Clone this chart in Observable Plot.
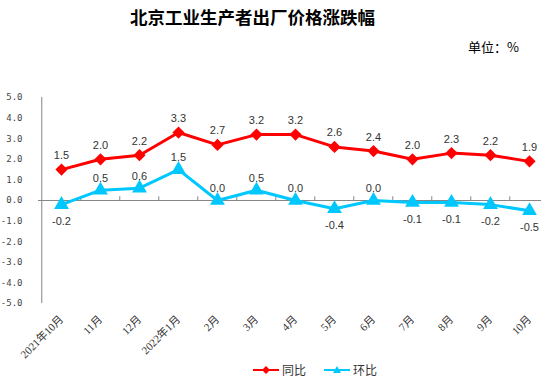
<!DOCTYPE html>
<html>
<head>
<meta charset="utf-8">
<script src="https://cdn.jsdelivr.net/npm/d3@7"></script>
<script src="https://cdn.jsdelivr.net/npm/@observablehq/plot@0.6"></script>
<style>
  html, body { margin: 0; padding: 0; background: #fff; }
  #wrap { position: relative; width: 551px; height: 378px; overflow: hidden; font-family: "Noto Sans CJK SC", sans-serif; }
  #head { position: relative; width: 551px; height: 90px; }
  #title { position: absolute; left: 0; width: 505px; top: 5px; text-align: center; font-size: 17.5px; font-weight: 700; line-height: 24px; color: #000; }
  #unit { position: absolute; left: 468px; top: 39px; font-size: 13px; line-height: 16px; color: #000; }
  #chart svg { display: block; }
  #legend { position: relative; height: 16px; width: 551px; font-size: 12px; color: #333; }
  .lg { position: absolute; top: 0; height: 16px; line-height: 16px; display: flex; align-items: center; }
  .lg svg { margin-right: 3px; }
</style>
</head>
<body>
<div id="wrap">
  <div id="head">
    <div id="title"></div>
    <div id="unit"></div>
  </div>
  <div id="chart"></div>
  <div id="legend"></div>
</div>
<script>
const titleText = "北京工业生产者出厂价格涨跌幅";
const unitText = "单位：%";
const months = ["2021年10月","11月","12月","2022年1月","2月","3月","4月","5月","6月","7月","8月","9月","10月"];
const yoy = [1.5, 2.0, 2.2, 3.3, 2.7, 3.2, 3.2, 2.6, 2.4, 2.0, 2.3, 2.2, 1.9];
const mom = [-0.2, 0.5, 0.6, 1.5, 0.0, 0.5, 0.0, -0.4, 0.0, -0.1, -0.1, -0.2, -0.5];
const yTicks = [-5, -4, -3, -2, -1, 0, 1, 2, 3, 4, 5];
const seriesNames = ["同比", "环比"];
const colors = ["#FF0000", "#00C8FF"];

document.getElementById("title").textContent = titleText;
document.getElementById("unit").textContent = unitText;

const rowsYoy = months.map((m, i) => ({month: m, value: yoy[i]}));
const rowsMom = months.map((m, i) => ({month: m, value: mom[i]}));

const W = 551, mL = 38, mR = 0;
const step = (W - mL - mR) / months.length;
const axisColor = "#868686";
const labelFont = "'Liberation Sans', 'Noto Sans CJK SC', sans-serif";

const chart = Plot.plot({
  width: W,
  height: 272,
  marginLeft: mL,
  marginRight: mR,
  marginTop: 7,
  marginBottom: 59,
  x: {type: "point", domain: months, padding: 0.5, label: null},
  y: {domain: [-5, 5], label: null},
  marks: [
    Plot.axisY({ticks: yTicks, tickSize: 0, tickPadding: 16, tickFormat: d => d.toFixed(1),
      fontFamily: "'DejaVu Sans Mono', monospace", fontSize: 9, fill: "#444", label: null}),
    Plot.axisX({tickSize: 0, tickRotate: -45, tickPadding: 14,
      fontFamily: "'Liberation Serif', 'Noto Sans CJK SC', serif", fontSize: 11, fill: "#333", label: null}),
    // vertical axis line
    Plot.ruleX([months[0]], {y1: -5, y2: 5, dx: -step / 2, stroke: axisColor, strokeWidth: 1}),
    // end ticks of vertical axis
    Plot.link([-5, 5], {x1: months[0], x2: months[0], y1: d => d, y2: d => d, dx: -step / 2,
      stroke: axisColor, strokeWidth: 1, markerEnd: null,
      render: (index, scales, values, dims, ctx, next) => {
        const g = next(index, scales, values, dims, ctx);
        d3.select(g).selectAll("path").attr("d", function() {
          const d = d3.select(this).attr("d");
          const m = /M([-\d.]+),([-\d.]+)/.exec(d);
          return `M${+m[1]},${+m[2]}h4`;
        });
        return g;
      }}),
    // zero line (category axis)
    Plot.ruleY([0], {stroke: axisColor, strokeWidth: 1, insetRight: 10}),
    // category boundary ticks
    Plot.ruleX(months.slice(1), {x: d => d, y1: 0, y2: 0.18, dx: -step / 2, stroke: axisColor, strokeWidth: 1}),
    // series lines
    Plot.line(rowsYoy, {x: "month", y: "value", stroke: colors[0], strokeWidth: 3}),
    Plot.line(rowsMom, {x: "month", y: "value", stroke: colors[1], strokeWidth: 3}),
    Plot.dot(rowsYoy, {x: "month", y: "value", symbol: "diamond2", r: 5.5, fill: colors[0], stroke: null}),
    Plot.dot(rowsMom, {x: "month", y: "value", symbol: "triangle", r: 5.5, fill: colors[1], stroke: null}),
    // data labels
    Plot.text(rowsYoy, {x: "month", y: "value", text: d => d.value.toFixed(1), dy: -14,
      fontFamily: labelFont, fontSize: 11, fill: "#333"}),
    Plot.text(rowsMom.filter(d => d.value >= 0), {x: "month", y: "value", text: d => d.value.toFixed(1), dy: -12,
      fontFamily: labelFont, fontSize: 11, fill: "#333"}),
    Plot.text(rowsMom.filter(d => d.value < 0), {x: "month", y: "value", text: d => d.value.toFixed(1), dy: 17,
      fontFamily: labelFont, fontSize: 11, fill: "#333"})
  ]
});
document.getElementById("chart").appendChild(chart);

// legend
const legend = document.getElementById("legend");
const lgPos = [253, 324];
seriesNames.forEach((name, i) => {
  const item = document.createElement("div");
  item.className = "lg";
  item.style.left = lgPos[i] + "px";
  const shape = i === 0
    ? `<path d="M13,4L17,8L13,12L9,8Z" fill="${colors[i]}"/>`
    : `<path d="M13,4L17,11L9,11Z" fill="${colors[i]}"/>`;
  item.innerHTML = `<svg width="26" height="16"><line x1="0" x2="26" y1="8" y2="8" stroke="${colors[i]}" stroke-width="2"/>${shape}</svg><span>${name}</span>`;
  legend.appendChild(item);
});
</script>
</body>
</html>
